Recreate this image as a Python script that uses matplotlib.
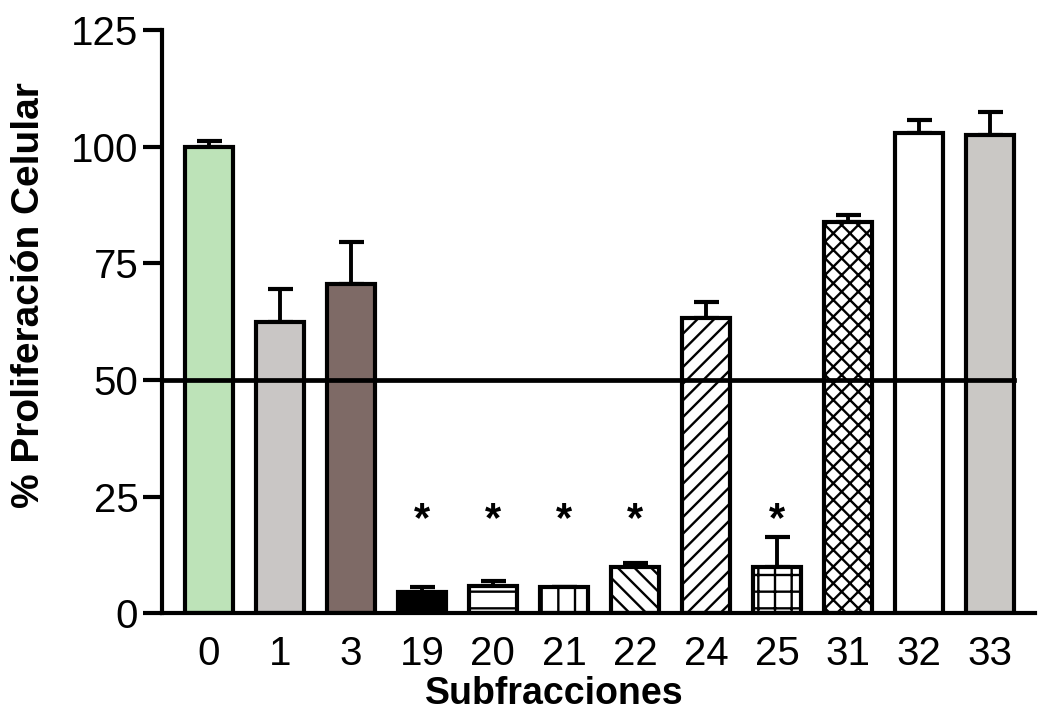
import numpy as np
import matplotlib
matplotlib.use("Agg")
import matplotlib.pyplot as plt

plt.rcParams['font.family'] = ['Liberation Sans', 'DejaVu Sans']
plt.rcParams['hatch.linewidth'] = 1.7

# data
subfracciones = ['0', '1', '3', '19', '20', '21', '22', '24', '25', '31', '32', '33']
proliferacion = [100.0, 62.4, 70.5, 4.5, 5.8, 5.6, 9.8, 63.2, 9.9, 84.0, 102.9, 102.5]
error_sup = [1.2, 7.1, 9.0, 1.0, 1.0, 0.0, 0.9, 3.5, 6.4, 1.5, 2.8, 4.9]
significativo = [False, False, False, True, True, True, True, False, True, False, False, False]
umbral = 50

colores = ['#bde3b8', '#c9c6c5', '#7e6a66', '#000000', 'white', 'white',
           'white', 'white', 'white', 'white', 'white', '#cac8c5']
tramas = ['', '', '', '', '-', '|', '\\\\', '//', '+', 'xx', '', '']

fig = plt.figure(figsize=(10.38, 7.23), dpi=100)
ax = fig.add_axes([0.156, 0.152, 0.841, 0.806])

x = np.arange(len(subfracciones))
ancho = 0.68
for xi, v, c, h in zip(x, proliferacion, colores, tramas):
    ax.bar(xi, v, width=ancho, color=c, edgecolor='black', linewidth=3,
           hatch=h, zorder=2)

ax.errorbar(x, proliferacion, yerr=[np.zeros(len(x)), error_sup], fmt='none',
            ecolor='black', elinewidth=2.8, capsize=9, capthick=3, zorder=1)

# 50% line, from the y axis to the right edge of the last bar
ax.plot([-0.66, x[-1] + ancho / 2], [umbral, umbral], color='black', lw=3.4,
        zorder=3, clip_on=False)

for xi, s, v, e in zip(x, significativo, proliferacion, error_sup):
    if s:
        ax.text(xi, max(20.0, v + e + 2.0), '*', ha='center', va='center',
                fontsize=30, fontweight='bold')

ax.set_xlim(-0.66, 11.63)
ax.set_ylim(0, 125)
ax.set_yticks([0, 25, 50, 75, 100, 125])
ax.set_xticks(x)
ax.set_xticklabels(subfracciones)

for s in ['top', 'right']:
    ax.spines[s].set_visible(False)
ax.spines['left'].set_linewidth(3)
ax.spines['bottom'].set_linewidth(3)
ax.tick_params(axis='y', length=14, width=3, labelsize=29, pad=3)
ax.tick_params(axis='x', length=0, labelsize=29, pad=16)

ax.set_ylabel('% Proliferación Celular', fontsize=28, fontweight='bold')
ax.yaxis.set_label_coords(-0.132, 0.545)
ax.set_xlabel('Subfracciones', fontsize=27, fontweight='bold')
ax.xaxis.set_label_coords(0.45, -0.108)

fig.savefig('out.png', dpi=100)
